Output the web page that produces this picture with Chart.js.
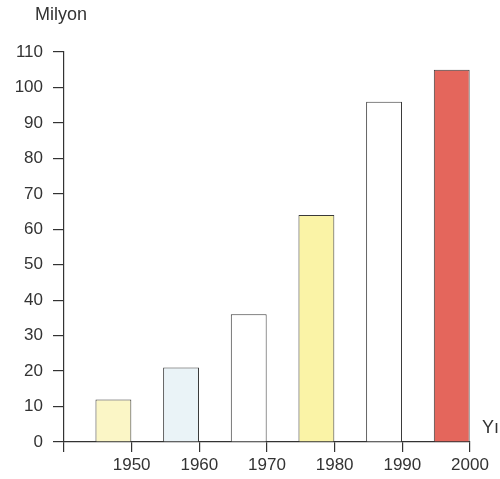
<!DOCTYPE html>
<html>
<head>
<meta charset="utf-8">
<script src="https://cdn.jsdelivr.net/npm/chart.js@4"></script>
<style>
  html, body { margin: 0; padding: 0; background: #fff; }
  #wrap { width: 500px; height: 479px; }
</style>
</head>
<body>
<div id="wrap"><canvas id="chart" width="500" height="479"></canvas></div>
<script>
// Données
const years = [1950, 1960, 1970, 1980, 1990, 2000];
const values = [12, 21, 36, 64, 96, 105];
const barColors = ['#fbf6c6', '#eaf3f7', '#ffffff', '#faf3a6', '#ffffff', '#e4665c'];
const yTicks = [0, 10, 20, 30, 40, 50, 60, 70, 80, 90, 100, 110];
const yTitle = 'Milyon';
const xTitle = 'Yıl';

const barShift = 2.7; // les barres sont dessinées juste avant chaque repère

const labelFont = { family: 'Liberation Sans, Arial, sans-serif', size: 17 };

// Textes "Milyon" et "Yıl"
const axisTitles = {
    id: 'axisTitles',
    afterDraw(chart) {
        const ctx = chart.ctx;
        const area = chart.chartArea;
        ctx.save();
        ctx.fillStyle = '#333';
        ctx.font = '18px Liberation Sans, Arial, sans-serif';
        ctx.textBaseline = 'middle';
        ctx.textAlign = 'left';
        ctx.fillText(yTitle, 35, 15);
        ctx.fillText(xTitle, area.right + 12, area.bottom - 14);
        ctx.restore();
    }
};

new Chart(document.getElementById('chart'), {
    type: 'bar',
    data: {
        datasets: [{
            data: years.map((y, i) => ({ x: y, y: values[i] })),
            xAxisID: 'xb',
            backgroundColor: barColors,
            borderColor: '#3a3a3a',
            borderWidth: 1,
            barPercentage: 0.53,
            categoryPercentage: 1
        }]
    },
    options: {
        responsive: false,
        animation: false,
        layout: { padding: { top: 52, right: 30, left: 0, bottom: 0 } },
        plugins: { legend: { display: false }, tooltip: { enabled: false } },
        scales: {
            xb: {
                type: 'linear',
                display: false,
                offset: false,
                min: 1940 + barShift,
                max: 2000 + barShift
            },
            x: {
                type: 'linear',
                position: 'bottom',
                offset: false,
                min: 1940,
                max: 2000,
                afterFit: s => { s.height = 37; },
                ticks: {
                    stepSize: 10,
                    color: '#333',
                    font: labelFont,
                    padding: 3,
                    maxRotation: 0,
                    callback: v => (v === 1940 ? '' : String(v))
                },
                grid: { offset: false, drawOnChartArea: false, tickLength: 10, color: '#333', lineWidth: 1.2 },
                border: { color: '#333', width: 1.2 }
            },
            y: {
                min: 0,
                max: 110,
                afterFit: s => { s.width = 64; },
                afterBuildTicks: s => { s.ticks = yTicks.map(v => ({ value: v })); },
                ticks: { color: '#333', font: labelFont, padding: 10 },
                grid: { drawOnChartArea: false, tickLength: 11, color: '#333', lineWidth: 1.2 },
                border: { color: '#333', width: 1.2 }
            }
        }
    },
    plugins: [axisTitles]
});
</script>
</body>
</html>
